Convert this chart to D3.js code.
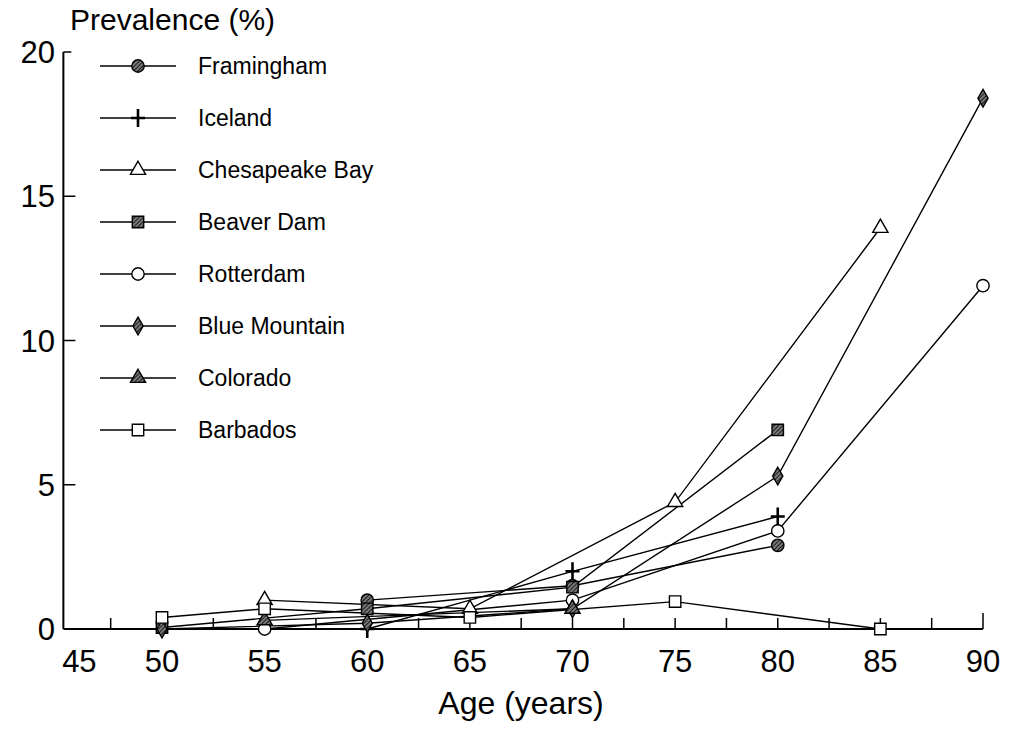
<!DOCTYPE html>
<html>
<head>
<style>
  body { margin: 0; background: #fff; }
  text { font-family: "Liberation Sans", Arial, sans-serif; fill: #000; }
</style>
</head>
<body>
<script src="https://d3js.org/d3.v7.min.js"></script>
<script>

const width = 1009;
const height = 745;

// age (years) / prevalence (%) pairs for each study
const framingham   = [[60, 1.0], [70, 1.5], [80, 2.9]];
const iceland      = [[60, 0.0], [70, 2.0], [80, 3.9]];
const chesapeake   = [[55, 1.0], [65, 0.7], [75, 4.4], [85, 13.9]];
const beaverDam    = [[50, 0.05], [60, 0.7], [70, 1.45], [80, 6.9]];
const rotterdam    = [[55, 0.0], [70, 1.0], [80, 3.4], [90, 11.9]];
const blueMountain = [[50, 0.0], [60, 0.2], [70, 0.7], [80, 5.3], [90, 18.4]];
const colorado     = [[55, 0.3], [70, 0.7]];
const barbados     = [[50, 0.4], [55, 0.7], [65, 0.4], [75, 0.95], [85, 0.0]];

const seriesNames = ['Framingham', 'Iceland', 'Chesapeake Bay', 'Beaver Dam',
                     'Rotterdam', 'Blue Mountain', 'Colorado', 'Barbados'];
const seriesData = [framingham, iceland, chesapeake, beaverDam,
                    rotterdam, blueMountain, colorado, barbados];
const seriesShape = ['circle', 'cross', 'triangle', 'square',
                     'circle', 'diamond', 'triangle', 'square'];
const seriesFilled = [true, true, false, true, false, true, true, false];

const xTicks = [45, 50, 55, 60, 65, 70, 75, 80, 85, 90];
const yTicks = [0, 5, 10, 15, 20];

const x = d3.scaleLinear().domain([50, 90]).range([162, 983]);
const y = d3.scaleLinear().domain([0, 20]).range([629, 52]);

const svg = d3.select('body')
              .append('svg')
              .attr('width', width)
              .attr('height', height);

const defs = svg.append('defs');
const hatch = defs.append('pattern')
                  .attr('id', 'hatch')
                  .attr('patternUnits', 'userSpaceOnUse')
                  .attr('width', 3)
                  .attr('height', 3)
                  .attr('patternTransform', 'rotate(45)');
hatch.append('rect').attr('width', 3).attr('height', 3).attr('fill', '#777');
hatch.append('line').attr('x1', 0).attr('y1', 0).attr('x2', 0).attr('y2', 3)
     .attr('stroke', '#111').attr('stroke-width', 1.8);

// axes
const x0 = x(45) + 4;
svg.append('line')
   .attr('x1', x0).attr('x2', x(90))
   .attr('y1', y(0)).attr('y2', y(0))
   .attr('stroke', '#000').attr('stroke-width', 2);
svg.append('line')
   .attr('x1', x0).attr('x2', x0)
   .attr('y1', y(0)).attr('y2', y(20))
   .attr('stroke', '#000').attr('stroke-width', 2);

const xMinor = d3.range(47.5, 90.1, 2.5);
svg.selectAll('.xtick')
   .data(xMinor)
   .enter()
   .append('line')
   .attr('x1', d => x(d)).attr('x2', d => x(d))
   .attr('y1', y(0))
   .attr('y2', d => y(0) - (d === 90 ? 16 : 11))
   .attr('stroke', '#000').attr('stroke-width', 1.5);

svg.selectAll('.ytick')
   .data(yTicks.filter(d => d > 0))
   .enter()
   .append('line')
   .attr('x1', x0).attr('x2', d => x0 + (d === 20 ? 8 : 12))
   .attr('y1', d => y(d)).attr('y2', d => y(d))
   .attr('stroke', '#000').attr('stroke-width', 1.5);

svg.selectAll('.xlabel')
   .data(xTicks)
   .enter()
   .append('text')
   .attr('x', d => x(d) + (d === 45 ? 20 : 0))
   .attr('y', 672)
   .attr('text-anchor', 'middle')
   .attr('font-size', 31)
   .text(d => d);

svg.selectAll('.ylabel')
   .data(yTicks)
   .enter()
   .append('text')
   .attr('x', 55)
   .attr('y', d => y(d) + 11)
   .attr('text-anchor', 'end')
   .attr('font-size', 31)
   .text(d => d);

svg.append('text')
   .attr('x', 70).attr('y', 30)
   .attr('font-size', 30)
   .text('Prevalence (%)');

svg.append('text')
   .attr('x', 521).attr('y', 714)
   .attr('text-anchor', 'middle')
   .attr('font-size', 32)
   .text('Age (years)');

// marker paths
const marker = (shape) => {
  if (shape === 'cross') return 'M-7,0H7M0,-9V9';
  const t = {circle: d3.symbolCircle, triangle: d3.symbolTriangle,
             square: d3.symbolSquare, diamond: d3.symbolDiamond}[shape];
  const size = {circle: 120, triangle: 100, square: 130, diamond: 90}[shape];
  return d3.symbol().type(t).size(size)();
};

const drawMarker = (g, i, px, py) => {
  const shape = seriesShape[i];
  const filled = seriesFilled[i];
  g.append('path')
   .attr('d', marker(shape))
   .attr('transform', `translate(${px},${py})`)
   .attr('fill', shape === 'cross' ? 'none' : (filled ? 'url(#hatch)' : '#fff'))
   .attr('stroke', '#000')
   .attr('stroke-width', shape === 'cross' ? 2.6 : 1.4);
};

const line = d3.line().x(d => x(d[0])).y(d => y(d[1]));

const lines = svg.append('g');
lines.selectAll('path')
     .data(seriesData)
     .enter()
     .append('path')
     .attr('d', line)
     .attr('fill', 'none')
     .attr('stroke', '#000')
     .attr('stroke-width', 1.4);

const points = svg.append('g');
seriesData.forEach((s, i) => {
  s.forEach(d => drawMarker(points, i, x(d[0]), y(d[1])));
});

// legend
const legend = svg.append('g');
seriesNames.forEach((name, i) => {
  const ly = 66 + i * 52;
  legend.append('line')
        .attr('x1', 100).attr('x2', 176)
        .attr('y1', ly).attr('y2', ly)
        .attr('stroke', '#000').attr('stroke-width', 1.4);
  drawMarker(legend, i, 138, ly);
  legend.append('text')
        .attr('x', 198).attr('y', ly + 8)
        .attr('font-size', 23)
        .text(name);
});

</script>
</body>
</html>
